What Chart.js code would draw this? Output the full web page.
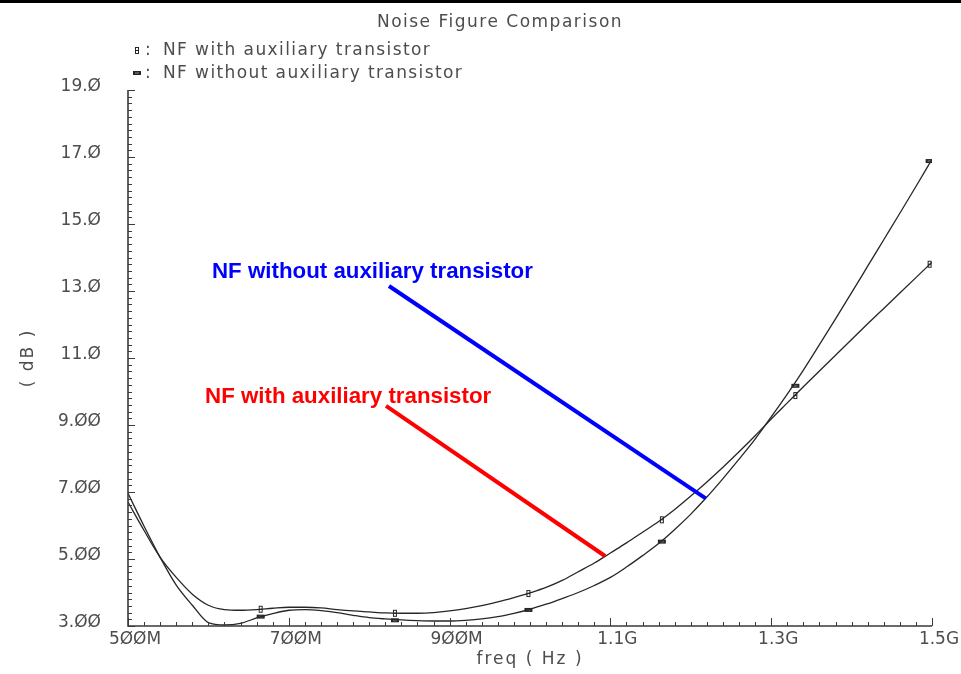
<!DOCTYPE html>
<html>
<head>
<meta charset="utf-8">
<title>Noise Figure Comparison</title>
<script src="https://cdn.jsdelivr.net/npm/chart.js@4.4.1/dist/chart.umd.min.js"></script>
<style>
  html, body { margin: 0; padding: 0; background: #fff; }
  #wrap { position: relative; width: 961px; height: 674px; }
  #wrap canvas { position: absolute; left: 0; top: 0; }
  #topbar { position: absolute; left: 0; top: 0; width: 961px; height: 3px; background: #000; }
</style>
</head>
<body>
<div id="wrap">
  <canvas id="nf" width="961" height="674"></canvas>
  <div id="topbar"></div>
</div>
<script>
// frequency sweep, MHz
const freq = [
  500, 520, 540, 560, 580, 600, 620, 640, 660, 680,
  700, 720, 740, 760, 780, 800, 820, 840, 860, 880,
  900, 920, 940, 960, 980, 1000, 1020, 1040, 1060, 1080,
  1100, 1120, 1140, 1160, 1180, 1200, 1220, 1240, 1260, 1280,
  1300, 1320, 1340, 1360, 1380, 1400, 1420, 1440, 1460, 1480, 1500
];

// noise figure, dB
const nfWith = [
  6.70, 5.85, 5.05, 4.45, 3.95, 3.62, 3.49, 3.47, 3.49, 3.53,
  3.56, 3.56, 3.54, 3.49, 3.45, 3.42, 3.39, 3.38, 3.38, 3.40,
  3.45, 3.52, 3.61, 3.72, 3.85, 3.99, 4.15, 4.36, 4.62, 4.88,
  5.18, 5.48, 5.80, 6.12, 6.48, 6.88, 7.30, 7.74, 8.20, 8.68,
  9.18, 9.66, 10.14, 10.61, 11.08, 11.55, 12.02, 12.48, 12.94, 13.40, 13.86
];
const nfWithout = [
  6.96, 5.98, 5.05, 4.22, 3.62, 3.10, 3.03, 3.08, 3.24, 3.37,
  3.47, 3.49, 3.46, 3.40, 3.32, 3.25, 3.21, 3.18, 3.16, 3.15,
  3.15, 3.17, 3.21, 3.28, 3.38, 3.50, 3.65, 3.82, 4.00, 4.21,
  4.45, 4.76, 5.10, 5.46, 5.88, 6.34, 6.85, 7.40, 7.98, 8.58,
  9.24, 9.92, 10.64, 11.40, 12.17, 12.95, 13.74, 14.53, 15.32, 16.12, 16.93
];

// symbol positions along each trace
const markFreq = [665, 832, 998, 1164, 1330, 1497];
const markWith = [3.50, 3.38, 3.97, 6.17, 9.88, 13.80];
const markWithout = [3.28, 3.17, 3.48, 5.52, 10.17, 16.88];

const seriesNames = ['NF with auxiliary transistor', 'NF without auxiliary transistor'];

const xTicks = [500, 700, 900, 1100, 1300, 1500];
const xTickText = ['5ØØM', '7ØØM', '9ØØM', '1.1G', '1.3G', '1.5G'];
const yTicks = [3, 5, 7, 9, 11, 13, 15, 17, 19];
const yTickText = ['3.ØØ', '5.ØØ', '7.ØØ', '9.ØØ', '11.Ø', '13.Ø', '15.Ø', '17.Ø', '19.Ø'];

// callouts: text anchor, then leader line from -> to (MHz, dB)
const noteText = ['NF without auxiliary transistor', 'NF with auxiliary transistor'];
const noteColor = ['#0000ff', '#ff0000'];
const noteAt = [[604.5, 13.39], [595.8, 9.66]];
const noteFrom = [[824.6, 13.15], [820.9, 9.57]];
const noteTo = [[1218.5, 6.81], [1093.3, 5.09]];

const ink = '#4d4d4d';
const trace = '#262626';
const axisInk = '#3a3a3a';
const fam = '"DejaVu Sans", sans-serif';

function makeMark(w, h, paint) {
  const c = document.createElement('canvas');
  c.width = w; c.height = h;
  paint(c.getContext('2d'));
  return c;
}
const markRect = makeMark(6, 9, g => {
  g.strokeStyle = trace; g.lineWidth = 1;
  g.strokeRect(1.5, 1.5, 3, 6);
  g.beginPath(); g.moveTo(1.5, 4.5); g.lineTo(4.5, 4.5); g.stroke();
});
const markDash = makeMark(10, 6, g => {
  g.fillStyle = trace;
  g.fillRect(1, 1, 8, 4);
  g.fillStyle = '#888';
  g.fillRect(3, 2.5, 4, 1);
});

function pts(xs, ys) {
  return xs.map((f, i) => ({ x: f, y: ys[i] }));
}

function spacedText(ctx, s, x, y, sp) {
  ctx.letterSpacing = sp + 'px';
  ctx.fillText(s, x, y);
  ctx.letterSpacing = '0px';
}

const plotDecor = {
  id: 'plotDecor',
  afterDatasetsDraw(chart) {
    const { ctx, scales: { x, y } } = chart;
    ctx.save();
    noteText.forEach((t, i) => {
      ctx.strokeStyle = noteColor[i];
      ctx.lineWidth = 4;
      ctx.beginPath();
      ctx.moveTo(x.getPixelForValue(noteFrom[i][0]), y.getPixelForValue(noteFrom[i][1]));
      ctx.lineTo(x.getPixelForValue(noteTo[i][0]), y.getPixelForValue(noteTo[i][1]));
      ctx.stroke();
      ctx.fillStyle = noteColor[i];
      ctx.font = 'bold 22.3px "Liberation Sans", Arial, sans-serif';
      ctx.textAlign = 'left';
      ctx.textBaseline = 'alphabetic';
      ctx.fillText(t, x.getPixelForValue(noteAt[i][0]), y.getPixelForValue(noteAt[i][1]));
    });
    ctx.restore();
  },
  afterDraw(chart) {
    const { ctx, chartArea: a, scales: { x, y } } = chart;
    ctx.save();

    // axes with inward ticks
    ctx.strokeStyle = axisInk;
    ctx.lineWidth = 1.6;
    ctx.beginPath();
    ctx.moveTo(a.left, a.top);
    ctx.lineTo(a.left, a.bottom);
    ctx.lineTo(a.right, a.bottom);
    ctx.stroke();

    ctx.lineWidth = 1;
    ctx.beginPath();
    for (let i = 0; i <= 50; i++) {
      const px = Math.round(x.getPixelForValue(500 + i * 20)) + 0.5;
      const len = i % 10 === 0 ? 8 : 4;
      ctx.moveTo(px, a.bottom);
      ctx.lineTo(px, a.bottom - len);
    }
    for (let i = 0; i <= 80; i++) {
      const py = Math.round(y.getPixelForValue(3 + i * 0.2)) + 0.5;
      const len = i % 10 === 0 ? 7 : 4;
      ctx.moveTo(a.left, py);
      ctx.lineTo(a.left + len, py);
    }
    ctx.stroke();

    ctx.fillStyle = ink;
    ctx.textBaseline = 'alphabetic';

    // title
    ctx.font = '17px ' + fam;
    ctx.textAlign = 'center';
    spacedText(ctx, 'Noise Figure Comparison', 500, 27, 1.5);

    // legend
    ctx.textAlign = 'left';
    ctx.drawImage(markRect, 134, 46);
    ctx.drawImage(markDash, 132, 70);
    spacedText(ctx, ':', 145, 55, 0);
    spacedText(ctx, ':', 145, 78, 0);
    spacedText(ctx, seriesNames[0], 163, 55, 1.4);
    spacedText(ctx, seriesNames[1], 163, 78, 1.4);

    // axis titles
    ctx.textAlign = 'center';
    spacedText(ctx, 'freq ( Hz )', (a.left + a.right) / 2, 664, 2);
    ctx.translate(33, (a.top + a.bottom) / 2);
    ctx.rotate(-Math.PI / 2);
    spacedText(ctx, '( dB )', 0, 0, 2);
    ctx.restore();
  }
};

const tickFont = { family: fam, size: 17 };

new Chart(document.getElementById('nf'), {
  type: 'line',
  data: {
    datasets: [
      {
        label: seriesNames[0],
        data: pts(freq, nfWith),
        borderColor: trace,
        borderWidth: 1.3,
        pointRadius: 0,
        cubicInterpolationMode: 'monotone',
        fill: false
      },
      {
        label: seriesNames[1],
        data: pts(freq, nfWithout),
        borderColor: trace,
        borderWidth: 1.3,
        pointRadius: 0,
        cubicInterpolationMode: 'monotone',
        fill: false
      },
      {
        label: seriesNames[0] + ' symbols',
        data: pts(markFreq, markWith),
        showLine: false,
        pointStyle: markRect,
        pointRadius: 4
      },
      {
        label: seriesNames[1] + ' symbols',
        data: pts(markFreq, markWithout),
        showLine: false,
        pointStyle: markDash,
        pointRadius: 4
      }
    ]
  },
  options: {
    responsive: false,
    animation: false,
    devicePixelRatio: 1,
    layout: { padding: { top: 90, right: 29, bottom: 0, left: 0 } },
    plugins: {
      legend: { display: false },
      tooltip: { enabled: false },
      title: { display: false }
    },
    scales: {
      x: {
        type: 'linear',
        min: 500,
        max: 1500,
        afterBuildTicks: s => { s.ticks = xTicks.map(v => ({ value: v })); },
        afterFit: s => { s.height = 48; },
        grid: { display: false, drawTicks: false },
        border: { display: false },
        ticks: {
          autoSkip: false,
          maxRotation: 0,
          labelOffset: 7,
          padding: 3,
          color: ink,
          font: tickFont,
          callback: (v, i) => xTickText[i]
        }
      },
      y: {
        type: 'linear',
        min: 3,
        max: 19,
        afterBuildTicks: s => { s.ticks = yTicks.map(v => ({ value: v })); },
        afterFit: s => { s.width = 128; },
        grid: { display: false, drawTicks: false },
        border: { display: false },
        ticks: {
          padding: 27,
          labelOffset: -3,
          color: ink,
          font: tickFont,
          callback: (v, i) => yTickText[i]
        }
      }
    }
  },
  plugins: [plotDecor]
});
</script>
</body>
</html>
